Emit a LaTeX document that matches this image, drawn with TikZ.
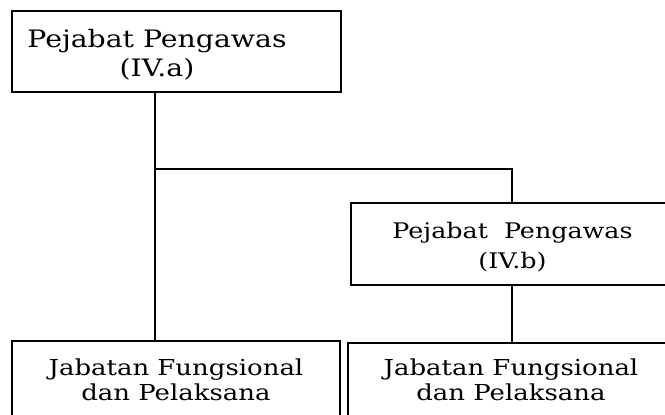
\documentclass[tikz,border=0pt]{standalone}
\usepackage{fontspec}
\setmainfont{DejaVu Serif}[FakeStretch=1.18]
\begin{document}
\begin{tikzpicture}[x=1pt,y=-1pt,
  box/.style={draw, line width=2.4pt, inner sep=0pt},
  lbl/.style={align=center, inner sep=0pt, anchor=base},
  headtxt/.style={font=\fontsize{24}{29}\selectfont},
  subtxt/.style={font=\fontsize{21.5}{30}\selectfont},
  stafftxt/.style={font=\fontsize{22}{25}\selectfont},
  link/.style={line width=2.4pt}]
\useasboundingbox (0,0) rectangle (665,415);
% boxes
\node[box, minimum width=329pt, minimum height=81pt] (pa) at (176.5,51.5) {};
\node[box, minimum width=322pt, minimum height=82pt] (pb) at (512,244) {};
\node[box, minimum width=328pt, minimum height=91pt] (fa) at (176,386.5) {};
\node[box, minimum width=328pt, minimum height=89pt] (fb) at (512,387.5) {};
% labels (anchored at the baseline of the last line)
\node[lbl, headtxt] (ta) at (157,76) {Pejabat Pengawas\\(IV.a)};
\node[lbl, subtxt] (tb) at (512.5,268) {Pejabat\ \ Pengawas\\(IV.b)};
\node[lbl, stafftxt] (tc) at (176,400) {Jabatan Fungsional\\dan Pelaksana};
\node[lbl, stafftxt] (td) at (511,400) {Jabatan Fungsional\\dan Pelaksana};
% connectors
\coordinate (spine) at (155,169);
\draw[link] (spine |- pa.south) -- (spine |- fa.north);
\draw[link] (spine) -| (pb.north);
\draw[link] (pb.south) -- (pb.south |- fb.north);
\end{tikzpicture}
\end{document}
